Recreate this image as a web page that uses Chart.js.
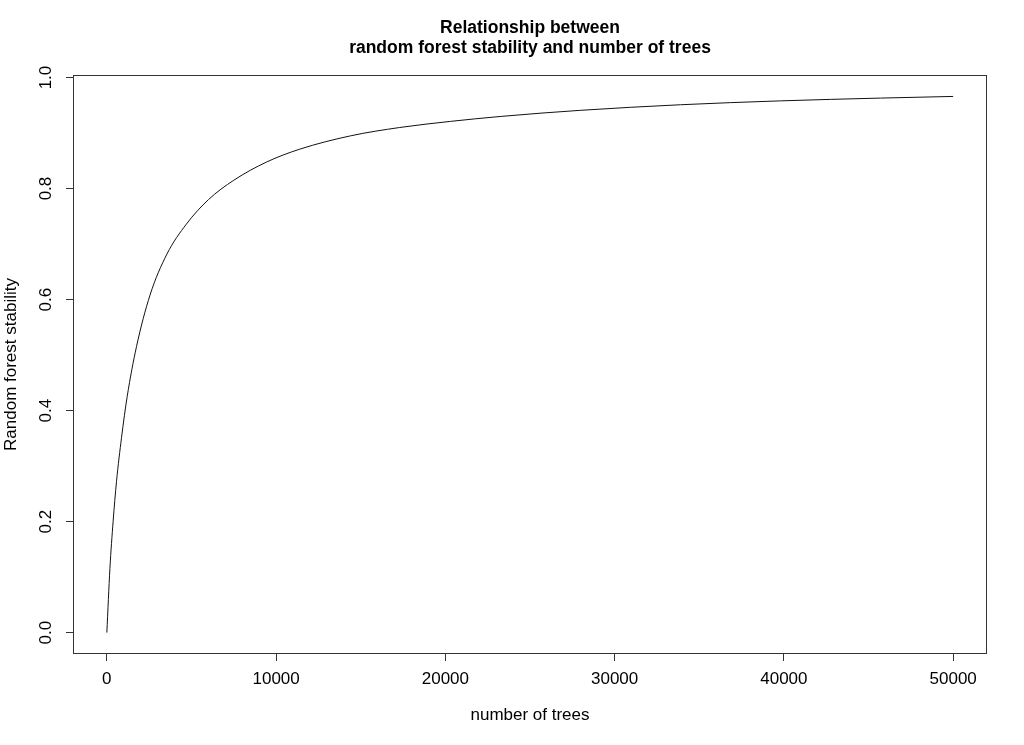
<!DOCTYPE html>
<html>
<head>
<meta charset="utf-8">
<script src="https://cdn.jsdelivr.net/npm/chart.js@4/dist/chart.umd.min.js"></script>
<style>
html,body{margin:0;padding:0;background:#fff;}
#wrap{width:1024px;height:745px;position:relative;}
</style>
</head>
<body>
<div id="wrap"><canvas id="c" width="1024" height="745"></canvas></div>
<script>
// Data
const treeCounts = [0, 180, 370, 570, 870, 1200, 1750, 2550, 3550, 4700, 6000, 7500, 9450, 11400, 14400, 17300, 20300, 23300, 28000, 33900, 39800, 45700, 50000];
const stability  = [0, 0.115, 0.200, 0.272, 0.352, 0.425, 0.515, 0.608, 0.682, 0.736, 0.780, 0.815, 0.848, 0.871, 0.895, 0.910, 0.921, 0.930, 0.941, 0.951, 0.958, 0.963, 0.966];
const xTickValues = [0, 10000, 20000, 30000, 40000, 50000];
const yTickValues = [0.0, 0.2, 0.4, 0.6, 0.8, 1.0];
const yTickLabels = ["0.0", "0.2", "0.4", "0.6", "0.8", "1.0"];
const titleLines = ["Relationship between", "random forest stability and number of trees"];
const xTitle = "number of trees";
const yTitle = "Random forest stability";

const FONT = "'Liberation Sans', Arial, Helvetica, sans-serif";
const AXIS_COLOR = '#333';

const points = treeCounts.map((x, i) => ({x: x, y: stability[i]}));

const rPlot = {
  id: 'rPlot',
  afterDraw(chart) {
    const ctx = chart.ctx;
    const a = chart.chartArea;
    ctx.save();
    // box
    ctx.strokeStyle = AXIS_COLOR;
    ctx.lineWidth = 1;
    ctx.strokeRect(Math.round(a.left) + 0.5, Math.round(a.top) + 0.5,
                   Math.round(a.right - a.left) - 1, Math.round(a.bottom - a.top) - 1);
    // title
    ctx.fillStyle = '#000';
    ctx.font = 'bold 17.5px ' + FONT;
    ctx.textAlign = 'center';
    ctx.textBaseline = 'middle';
    const cx = (a.left + a.right) / 2;
    ctx.fillText(titleLines[0], cx, 28);
    ctx.fillText(titleLines[1], cx, 48);
    // y tick labels, rotated like R
    const ys = chart.scales.y;
    ctx.font = '17px ' + FONT;
    yTickValues.forEach((v, i) => {
      const py = ys.getPixelForValue(v);
      ctx.save();
      ctx.translate(46, py);
      ctx.rotate(-Math.PI / 2);
      ctx.fillText(yTickLabels[i], 0, 0);
      ctx.restore();
    });
    ctx.restore();
  }
};

new Chart(document.getElementById('c'), {
  type: 'line',
  data: {
    datasets: [{
      data: points,
      borderColor: '#111',
      borderWidth: 1,
      pointRadius: 0,
      fill: false,
      cubicInterpolationMode: 'monotone'
    }]
  },
  options: {
    responsive: false,
    animation: false,
    devicePixelRatio: 1,
    layout: {padding: {left: 0, top: 75, right: 37, bottom: 0}},
    plugins: {legend: {display: false}, title: {display: false}, tooltip: {enabled: false}},
    scales: {
      x: {
        type: 'linear',
        min: -2000,
        max: 52000,
        afterBuildTicks: s => { s.ticks = xTickValues.map(v => ({value: v})); },
        afterFit: s => { s.height = 91; },
        border: {display: false},
        grid: {display: true, drawOnChartArea: false, drawTicks: true, tickLength: 7, color: AXIS_COLOR, lineWidth: 1},
        ticks: {
          color: '#000',
          font: {family: FONT, size: 17},
          padding: 8,
          maxRotation: 0,
          autoSkip: false,
          callback: v => String(v)
        },
        title: {display: true, text: xTitle, color: '#000', font: {family: FONT, size: 17}, padding: {top: 0, bottom: 19}}
      },
      y: {
        type: 'linear',
        min: -0.0386,
        max: 1.0046,
        afterBuildTicks: s => { s.ticks = yTickValues.map(v => ({value: v})); },
        afterFit: s => { s.width = 73; },
        border: {display: false},
        grid: {display: true, drawOnChartArea: false, drawTicks: true, tickLength: 7, color: AXIS_COLOR, lineWidth: 1},
        ticks: {display: false},
        title: {display: true, text: yTitle, color: '#000', font: {family: FONT, size: 17}, padding: {top: 1, bottom: 0}}
      }
    }
  },
  plugins: [rPlot]
});
</script>
</body>
</html>
